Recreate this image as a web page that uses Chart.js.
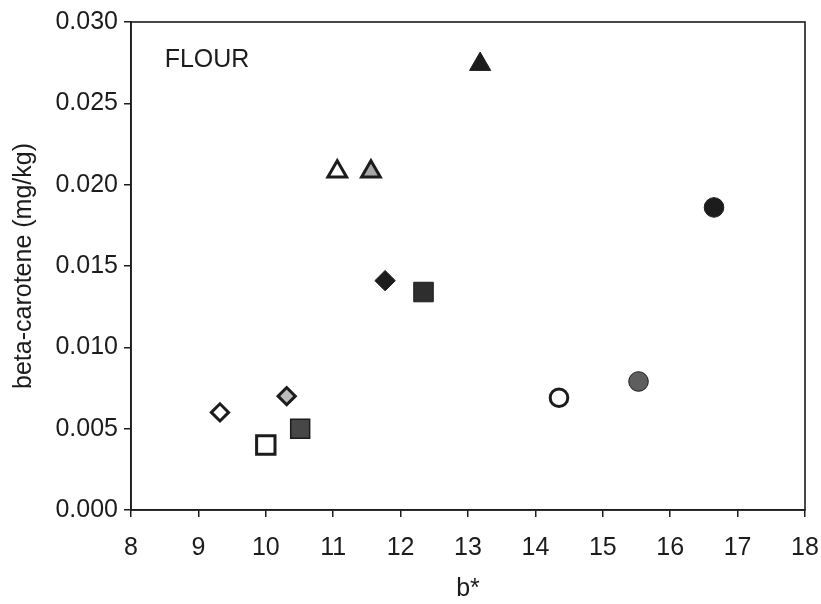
<!DOCTYPE html>
<html>
<head>
<meta charset="utf-8">
<script src="https://cdn.jsdelivr.net/npm/chart.js@4/dist/chart.umd.min.js"></script>
<style>
  html, body { margin: 0; padding: 0; background: #fff; }
  #wrap { width: 821px; height: 604px; }
</style>
</head>
<body>
<div id="wrap"><canvas id="chart" width="821" height="604"></canvas></div>
<script>
// ------------------------------------------------------------
// Data (b* colour vs beta-carotene, flour)
// ------------------------------------------------------------
const bStar        = [9.32, 10.31, 10.0, 10.51, 11.06, 11.56, 13.18, 11.77, 12.34, 14.35, 15.53, 16.65];
const betaCarotene = [0.0060, 0.0070, 0.0040, 0.0050, 0.0208, 0.0208, 0.0274, 0.0141, 0.0134, 0.0069, 0.0079, 0.0186];
const xTicks = [8, 9, 10, 11, 12, 13, 14, 15, 16, 17, 18];
const yTicks = [0, 0.005, 0.010, 0.015, 0.020, 0.025, 0.030];
const panelLabel = "FLOUR";

// marker look for each point, same order as the data
const INK = "#1c1c1c";
const markers = [
    { style: "rectRot",  r: 8.6,  fill: "#ffffff", bw: 3 },
    { style: "rectRot",  r: 8.6,  fill: "#bdbdbd", bw: 3 },
    { style: "rect",     r: 13,   fill: "#ffffff", bw: 3 },
    { style: "rect",     r: 13.4, fill: "#474747", bw: 1.5 },
    { style: "triangle", r: 10.8, fill: "#ffffff", bw: 3 },
    { style: "triangle", r: 10.8, fill: "#a8a8a8", bw: 3 },
    { style: "triangle", r: 12.2, fill: INK,       bw: 1 },
    { style: "rectRot",  r: 10.2, fill: INK,       bw: 1 },
    { style: "rect",     r: 13.8, fill: "#2e2e2e", bw: 1 },
    { style: "circle",   r: 8.8,  fill: "#ffffff", bw: 3 },
    { style: "circle",   r: 9.8,  fill: "#5e5e5e", bw: 1 },
    { style: "circle",   r: 9.8,  fill: INK,       bw: 1 }
];

const FONT = "'Liberation Sans', Arial, sans-serif";

// frame around the plot area + the panel label
const framePlugin = {
    id: "frame",
    afterDraw(chart) {
        const { ctx, chartArea: a, scales } = chart;
        ctx.save();
        ctx.strokeStyle = INK;
        ctx.lineWidth = 1.6;
        ctx.strokeRect(a.left, a.top, a.right - a.left, a.bottom - a.top);
        ctx.fillStyle = INK;
        ctx.font = "25px " + FONT;
        ctx.textAlign = "left";
        ctx.textBaseline = "middle";
        ctx.fillText(panelLabel, scales.x.getPixelForValue(8.5), scales.y.getPixelForValue(0.02765));
        ctx.restore();
    }
};

new Chart(document.getElementById("chart"), {
    type: "scatter",
    data: {
        datasets: [{
            data: bStar.map((b, i) => ({ x: b, y: betaCarotene[i] })),
            pointStyle: markers.map(m => m.style),
            pointRadius: markers.map(m => m.r),
            pointHoverRadius: markers.map(m => m.r),
            backgroundColor: markers.map(m => m.fill),
            borderColor: INK,
            pointBorderWidth: markers.map(m => m.bw),
            borderWidth: markers.map(m => m.bw)
        }]
    },
    options: {
        responsive: false,
        animation: false,
        layout: { padding: { left: 0, top: 22, right: 2, bottom: 0 } },
        plugins: { legend: { display: false }, tooltip: { enabled: false } },
        scales: {
            x: {
                type: "linear",
                min: 8, max: 18,
                afterBuildTicks: s => { s.ticks = xTicks.map(v => ({ value: v })); },
                // fixed height; keep the right edge of the plot at 805px
                afterFit: s => { s.height = 94; s.paddingRight = 16; s.paddingLeft = 0; },
                grid: { display: true, drawOnChartArea: false, drawTicks: true, tickLength: 7, color: INK, lineWidth: 1.5 },
                border: { display: true, color: INK, width: 1.6 },
                ticks: { color: INK, font: { family: FONT, size: 25 }, padding: 16, maxRotation: 0 },
                title: { display: true, text: "b*", color: INK, font: { family: FONT, size: 25 }, padding: { top: 0, bottom: 0 } }
            },
            y: {
                type: "linear",
                min: 0, max: 0.03,
                afterBuildTicks: s => { s.ticks = yTicks.map(v => ({ value: v })); },
                afterFit: s => { s.width = 131; },
                grid: { display: true, drawOnChartArea: false, drawTicks: true, tickLength: 7, color: INK, lineWidth: 1.5 },
                border: { display: true, color: INK, width: 1.6 },
                ticks: { color: INK, font: { family: FONT, size: 25 }, padding: 6, callback: v => v.toFixed(3) },
                title: { display: true, text: "beta-carotene (mg/kg)", color: INK, font: { family: FONT, size: 25 }, padding: { top: 9, bottom: 0 } }
            }
        }
    },
    plugins: [framePlugin]
});
</script>
</body>
</html>
